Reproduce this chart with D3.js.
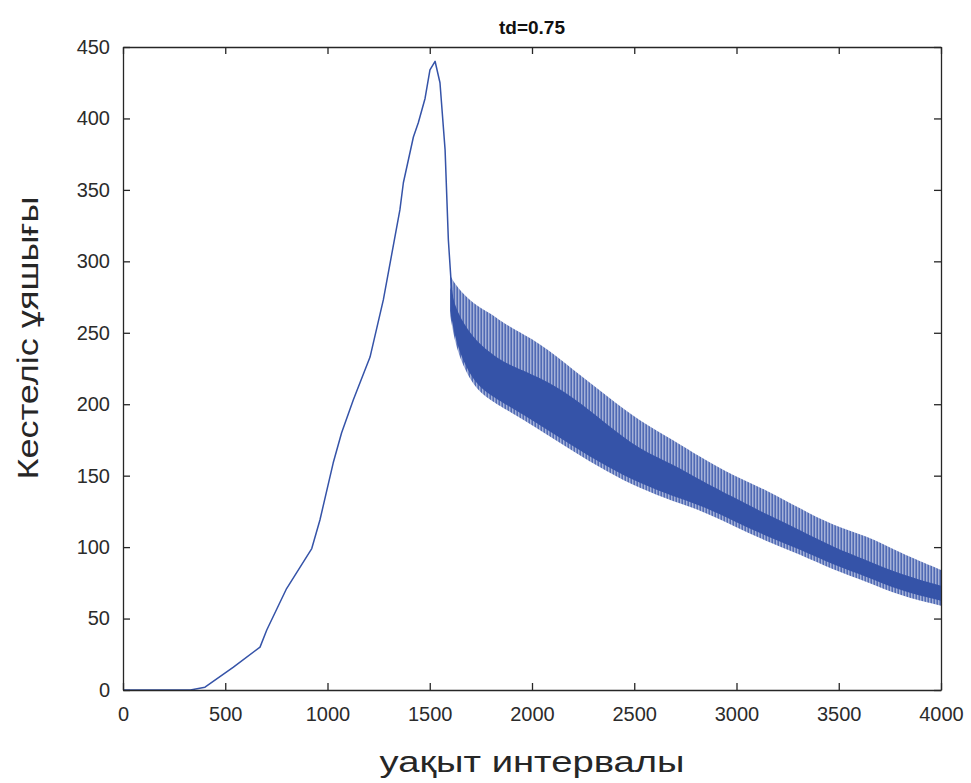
<!DOCTYPE html>
<html>
<head>
<meta charset="utf-8">
<script src="https://cdn.jsdelivr.net/npm/d3@7"></script>
<style>
  body { margin: 0; background: #fff; }
  text { font-family: "Liberation Sans", Arial, sans-serif; }
</style>
</head>
<body>
<div id="vis"></div>
<script>
var WIDTH = 971
var HEIGHT = 783

// rising part and peak (single line)
var riseX = [0, 330, 401, 540, 670, 703, 800, 923, 963, 1028, 1069, 1126, 1208, 1273, 1354, 1371, 1420, 1444, 1477, 1501, 1526, 1550, 1575, 1591, 1607, 1620]
var riseY = [0, 0, 2, 16, 30, 42, 71, 99, 119, 159, 180, 203, 233, 273, 336, 355, 387, 397, 414, 434, 440, 425, 378, 315, 280, 262]

// oscillating band after the peak: lower edge, top of dense part, spike tops
var bandX = [1600, 1632, 1713, 1795, 1876, 2039, 2202, 2365, 2528, 2691, 2822, 2984, 3147, 3311, 3473, 3636, 3799, 4000]
var bandLow = [262, 236, 212, 203, 196, 182, 167, 153, 141, 132, 126, 115, 104, 95, 84, 76, 66, 59]
var bandMid = [282, 264, 246, 236, 228, 219, 205, 186, 168, 158, 147, 135, 123, 112, 100, 91, 81, 73]
var bandTop = [290, 282, 270, 264, 255, 243, 224, 206, 188, 175, 163, 150, 140, 127, 115, 108, 96, 84]

var xTicks = [0, 500, 1000, 1500, 2000, 2500, 3000, 3500, 4000]
var yTicks = [0, 50, 100, 150, 200, 250, 300, 350, 400, 450]

var LINE = '#3553a8'

var margin = { left: 123, right: 30, top: 47, bottom: 93 }
var w = WIDTH - margin.left - margin.right
var h = HEIGHT - margin.top - margin.bottom

var x = d3.scaleLinear().domain([0, 4000]).range([0, w])
var y = d3.scaleLinear().domain([0, 450]).range([h, 0])

var svg = d3.select('#vis').append('svg')
    .attr('width', WIDTH)
    .attr('height', HEIGHT)

var defs = svg.append('defs')
var pat = defs.append('pattern')
    .attr('id', 'spikes')
    .attr('patternUnits', 'userSpaceOnUse')
    .attr('width', 3)
    .attr('height', 10)
pat.append('rect')
    .attr('width', 3).attr('height', 10)
    .attr('fill', LINE).attr('opacity', 0.45)
pat.append('rect')
    .attr('x', 0.5).attr('width', 1.4).attr('height', 10)
    .attr('fill', LINE).attr('opacity', 0.85)

defs.append('clipPath').attr('id', 'clip')
    .append('rect').attr('width', w).attr('height', h)

var g = svg.append('g')
    .attr('transform', 'translate(' + margin.left + ',' + margin.top + ')')

var plot = g.append('g').attr('clip-path', 'url(#clip)')

var band = bandX.map((d, i) => ({ x: d, low: bandLow[i], mid: bandMid[i], top: bandTop[i] }))

// light spikes over the full band
plot.append('path')
    .datum(band)
    .attr('fill', 'url(#spikes)')
    .attr('d', d3.area().x(d => x(d.x)).y0(d => y(d.low)).y1(d => y(d.top)).curve(d3.curveBasis))

// dense part
plot.append('path')
    .datum(band)
    .attr('fill', LINE)
    .attr('d', d3.area().x(d => x(d.x)).y0(d => y(d.low) - 5).y1(d => y(d.mid)).curve(d3.curveBasis))

var rise = riseX.map((d, i) => [d, riseY[i]])
plot.append('path')
    .datum(rise)
    .attr('fill', 'none')
    .attr('stroke', LINE)
    .attr('stroke-width', 1.5)
    .attr('stroke-linejoin', 'round')
    .attr('d', d3.line().x(d => x(d[0])).y(d => y(d[1])))

// axes with ticks on all four sides
var axisColor = '#262626'
function styleAxis(sel) {
    sel.select('.domain').attr('stroke', axisColor).attr('stroke-width', 1.3)
    sel.selectAll('.tick line').attr('stroke', axisColor).attr('stroke-width', 1.3)
    sel.selectAll('.tick text').attr('fill', '#2b2b2b').attr('font-size', 20)
}

var xb = g.append('g').attr('transform', 'translate(0,' + h + ')')
    .call(d3.axisBottom(x).tickValues(xTicks).tickSize(-7).tickPadding(17).tickSizeOuter(0).tickFormat(d3.format('d')))
styleAxis(xb)

var xt = g.append('g')
    .call(d3.axisTop(x).tickValues(xTicks).tickSize(-7).tickSizeOuter(0).tickFormat(''))
styleAxis(xt)

var yl = g.append('g')
    .call(d3.axisLeft(y).tickValues(yTicks).tickSize(-7).tickPadding(13).tickSizeOuter(0).tickFormat(d3.format('d')))
styleAxis(yl)

var yr = g.append('g').attr('transform', 'translate(' + w + ',0)')
    .call(d3.axisRight(y).tickValues(yTicks).tickSize(-7).tickSizeOuter(0).tickFormat(''))
styleAxis(yr)

// title and labels
svg.append('text')
    .attr('x', margin.left + w / 2)
    .attr('y', 34)
    .attr('text-anchor', 'middle')
    .attr('font-size', 19)
    .attr('font-weight', 'bold')
    .attr('fill', '#111')
    .text('td=0.75')

svg.append('text')
    .attr('x', margin.left + w / 2)
    .attr('y', 772)
    .attr('text-anchor', 'middle')
    .attr('font-size', 29)
    .attr('fill', '#262626')
    .attr('textLength', 305)
    .attr('lengthAdjust', 'spacingAndGlyphs')
    .text('уақыт интервалы')

svg.append('text')
    .attr('transform', 'translate(38,338) rotate(-90)')
    .attr('text-anchor', 'middle')
    .attr('font-size', 30)
    .attr('fill', '#262626')
    .attr('textLength', 283)
    .attr('lengthAdjust', 'spacingAndGlyphs')
    .text('Кестеліс ұяшығы')
</script>
</body>
</html>
